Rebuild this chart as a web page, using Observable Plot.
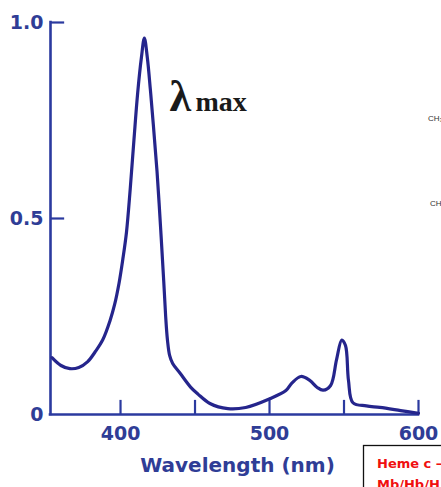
<!DOCTYPE html>
<html><head><meta charset="utf-8">
<script src="https://cdn.jsdelivr.net/npm/d3@7"></script>
<script src="https://cdn.jsdelivr.net/npm/@observablehq/plot@0.6"></script>
<style>
body{margin:0;background:#fff}
#chart{position:relative;width:441px;height:487px;overflow:hidden}
</style>
</head><body><div id="chart"></div>
<script>
const wavelength = [354,360,366,372,378,383,388,393,396,399,401.5,404,406.5,409,411.5,414,416,418,420,422,424.5,427,429,430.3,431.5,433,435,440,447,452,460,472,484,500,511,515,521,527,532,536,541,545,548.5,551,553,556,565,574,588,600];
const absorbance = [0.145,0.125,0.117,0.12,0.135,0.16,0.19,0.24,0.28,0.335,0.395,0.465,0.575,0.70,0.82,0.91,0.96,0.91,0.83,0.74,0.62,0.47,0.34,0.25,0.19,0.15,0.13,0.105,0.07,0.052,0.028,0.015,0.018,0.04,0.061,0.08,0.097,0.087,0.069,0.062,0.074,0.14,0.19,0.176,0.087,0.03,0.022,0.018,0.01,0.003];
const xTicks = [400,450,500,550,600];
const xTickLabels = [400,500,600];
const yTicks = [0.5,1.0];
const yTickValues = [0,0.5,1.0];
const yTickLabels = ["0","0.5","1.0"];
const xLabel = "Wavelength (nm)";
const peakLabel = "λ";
const peakSub = "max";
const sideTexts = ["CH₃","CH₃"];
const boxLines = ["Heme c –","Mb/Hb/H"];

const data = wavelength.map((w,i)=>({w, a: absorbance[i]}));
const curveColor = "#25258c";
const axisColor = "#2b3a9f";
const labelColor = "#2f3d96";
const xMin = 353;

const plot = Plot.plot({
  width: 441, height: 487,
  marginLeft: 50, marginRight: 23, marginTop: 22, marginBottom: 73,
  x: {domain: [xMin, 600]},
  y: {domain: [0, 1]},
  style: {background: "white", fontFamily: "DejaVu Sans, sans-serif", overflow: "hidden"},
  marks: [
    Plot.axisX({ticks: xTickLabels, tickSize: 0, tickPadding: 12, label: null, fontSize: 19, fontWeight: "bold", fill: labelColor}),
    Plot.axisY({ticks: yTickValues, tickFormat: d => yTickLabels[yTickValues.indexOf(d)], tickSize: 0, tickPadding: 7, label: null, fontSize: 19, fontWeight: "bold", fill: labelColor}),
    Plot.ruleY([0], {stroke: axisColor, strokeWidth: 2.6, strokeLinecap: "square"}),
    Plot.ruleX([xMin], {y1: 0, y2: 1, stroke: axisColor, strokeWidth: 2.6, strokeLinecap: "square"}),
    Plot.ruleX(xTicks, {y1: 0, y2: 0.036, stroke: axisColor, strokeWidth: 2.2}),
    Plot.ruleY(yTicks, {x1: xMin, x2: xMin + 9.5, stroke: axisColor, strokeWidth: 2.2}),
    Plot.line(data, {x: "w", y: "a", curve: "catmull-rom", stroke: curveColor, strokeWidth: 3.2, strokeLinejoin: "round"}),
    Plot.text([xLabel], {frameAnchor: "bottom", dx: 3, dy: 57, fontSize: 20, fontWeight: "bold", fill: labelColor}),
    Plot.text([peakLabel], {frameAnchor: "top-left", dx: 119, dy: 88, textAnchor: "start", lineAnchor: "bottom", fontSize: 44, fontWeight: "bold", fontFamily: "Liberation Serif, serif", fill: "#1a1a1a"}),
    Plot.text([peakSub], {frameAnchor: "top-left", dx: 145, dy: 88, textAnchor: "start", lineAnchor: "bottom", fontSize: 28, fontWeight: "bold", fontFamily: "Liberation Serif, serif", fill: "#1a1a1a"})
  ]
});

const svg = d3.select(plot);
const side = svg.append("g").attr("text-anchor", "start").attr("font-size", 8).attr("font-family", "Liberation Sans, sans-serif").attr("fill", "#333");
side.append("text").attr("x", 428).attr("y", 121).text(sideTexts[0]);
side.append("text").attr("x", 430).attr("y", 206).text(sideTexts[1]);
svg.append("rect").attr("x", 363.5).attr("y", 445.5).attr("width", 120).attr("height", 60).attr("fill", "white").attr("stroke", "#111").attr("stroke-width", 1.3);
const box = svg.append("g").attr("text-anchor", "start").attr("font-size", 13).attr("font-weight", "bold")
  .attr("font-family", "DejaVu Sans, sans-serif").attr("fill", "#f01010");
boxLines.forEach((t,i) => {
  box.append("text").attr("x", 377).attr("y", 468 + i*21).text(t);
});

document.getElementById("chart").append(plot);
</script>
</body></html>
